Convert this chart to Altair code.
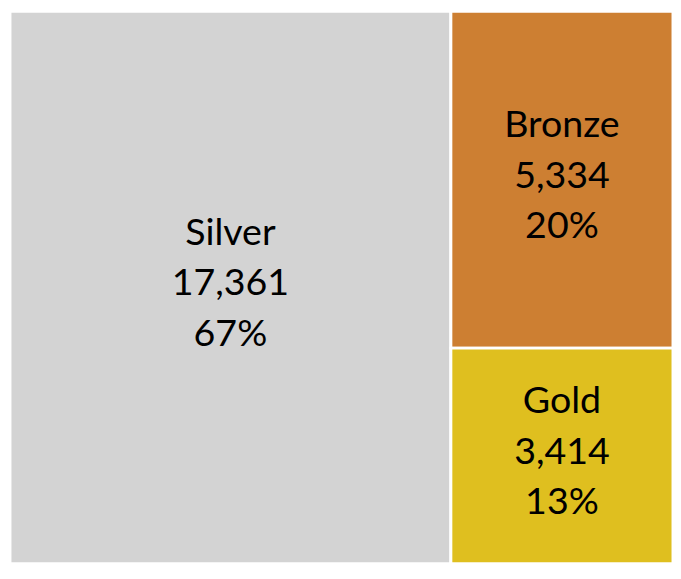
import altair as alt
import pandas as pd

names = ["Silver", "Bronze", "Gold"]
values = [17361, 5334, 3414]
percents = [67, 20, 13]
colors = ["#d3d3d3", "#cd7f32", "#dfbf1f"]

total = sum(values)
rest = values[1] + values[2]
split = values[0] / total

rows = []
# slice-and-dice: first item takes a full-height column, the rest stack vertically
rows.append(dict(name=names[0], value=values[0], pct=percents[0], x0=0.0, x1=split, y0=0.0, y1=1.0))
cum = 0.0
for n, v, p in zip(names[1:], values[1:], percents[1:]):
    frac = v / rest
    rows.append(dict(name=n, value=v, pct=p, x0=split, x1=1.0, y0=cum, y1=cum + frac))
    cum += frac

df = pd.DataFrame(rows)
df["label"] = [f"{n}\n{v:,}\n{p}%" for n, v, p in zip(df["name"], df["value"], df["pct"])]
df["xc"] = (df["x0"] + df["x1"]) / 2
df["yc"] = (df["y0"] + df["y1"]) / 2

xs = alt.Scale(domain=[0, 1], nice=False, zero=False)
ys = alt.Scale(domain=[0, 1], nice=False, zero=False, reverse=True)
col = alt.Scale(domain=names, range=colors)

base = alt.Chart(df)
rects = base.mark_rect(stroke="white", strokeWidth=3).encode(
    x=alt.X("x0:Q", scale=xs, axis=None),
    x2="x1:Q",
    y=alt.Y("y0:Q", scale=ys, axis=None),
    y2="y1:Q",
    color=alt.Color("name:N", scale=col, legend=None),
)
texts = base.mark_text(
    lineBreak="\n", font="Lato", fontSize=38, lineHeight=51, dy=-54,
    color="black", align="center", baseline="middle"
).encode(
    x=alt.X("xc:Q", scale=xs),
    y=alt.Y("yc:Q", scale=ys),
    text="label:N",
)

chart = (rects + texts).properties(
    width=671, height=559,
    padding={"left": 2, "top": 0, "right": 0, "bottom": 0},
    autosize=alt.AutoSizeParams(type="none"),
).configure_view(stroke=None)

chart.save("out.html", embed_options={"renderer": "svg", "actions": False})
